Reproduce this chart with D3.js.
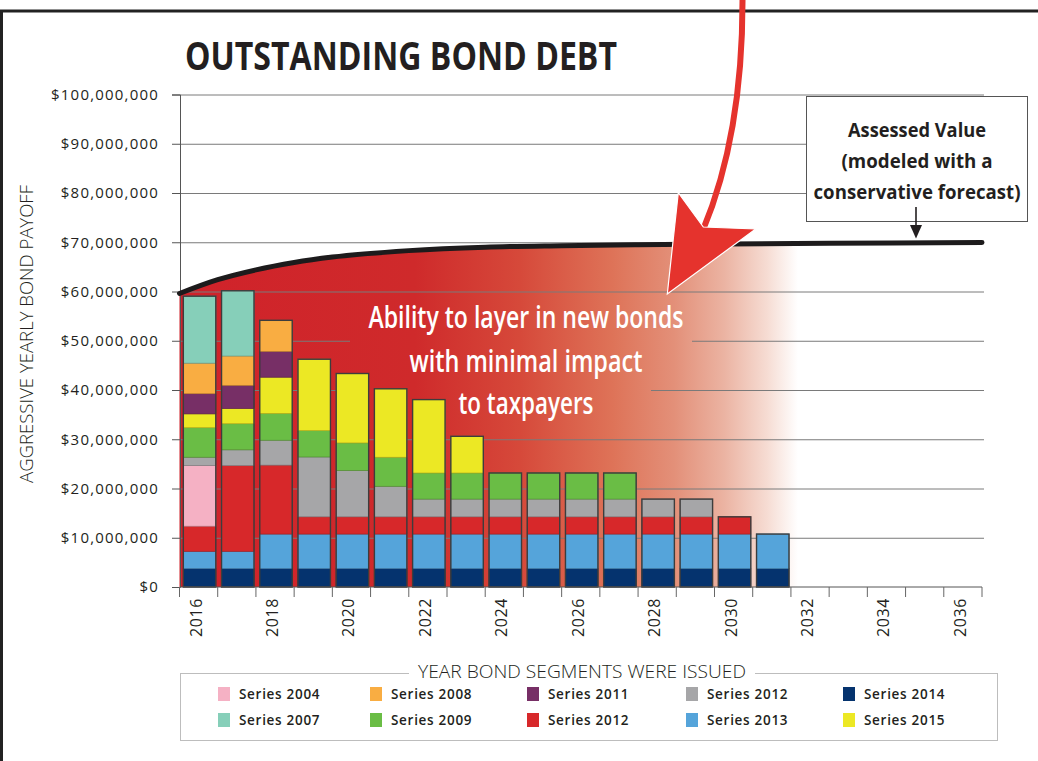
<!DOCTYPE html>
<html>
<head>
<meta charset="utf-8">
<script src="https://cdn.jsdelivr.net/npm/d3@7"></script>
<style>
  body { margin: 0; background: #fff; }
  svg { display: block; font-family: "Open Sans", sans-serif; }
</style>
</head>
<body>
<svg width="1038" height="761"></svg>
<script>

// ---- data (millions of dollars) ----
const axisYears = [2016, 2017, 2018, 2019, 2020, 2021, 2022, 2023, 2024, 2025, 2026,
                   2027, 2028, 2029, 2030, 2031, 2032, 2033, 2034, 2035, 2036];
const labelYears = [2016, 2018, 2020, 2022, 2024, 2026, 2028, 2030, 2032, 2034, 2036];
const barYears = [2016, 2017, 2018, 2019, 2020, 2021, 2022, 2023,
                  2024, 2025, 2026, 2027, 2028, 2029, 2030, 2031];

const series2014 = [3.75, 3.75, 3.75, 3.75, 3.75, 3.75, 3.75, 3.75, 3.75, 3.75, 3.75, 3.75, 3.75, 3.75, 3.75, 3.75];
const series2013 = [3.5, 3.5, 7.0, 7.0, 7.0, 7.0, 7.0, 7.0, 7.0, 7.0, 7.0, 7.0, 7.0, 7.0, 7.0, 7.0];
const series2012Red = [5.1, 17.4, 14.0, 3.5, 3.5, 3.5, 3.5, 3.5, 3.5, 3.5, 3.5, 3.5, 3.5, 3.5, 3.5, 0];
const series2004 = [12.3, 0, 0, 0, 0, 0, 0, 0, 0, 0, 0, 0, 0, 0, 0, 0];
const series2012Gray = [1.7, 3.2, 5.05, 12.15, 9.4, 6.2, 3.6, 3.6, 3.6, 3.6, 3.6, 3.6, 3.6, 3.6, 0, 0];
const series2009 = [6.0, 5.3, 5.45, 5.35, 5.6, 5.9, 5.3, 5.3, 5.3, 5.3, 5.3, 5.3, 0, 0, 0, 0];
const series2015 = [2.8, 3.1, 7.35, 14.5, 14.1, 13.9, 14.9, 7.45, 0, 0, 0, 0, 0, 0, 0, 0];
const series2011 = [4.1, 4.7, 5.25, 0, 0, 0, 0, 0, 0, 0, 0, 0, 0, 0, 0, 0];
const series2008 = [6.2, 5.95, 6.3, 0, 0, 0, 0, 0, 0, 0, 0, 0, 0, 0, 0, 0];
const series2007 = [13.6, 13.25, 0, 0, 0, 0, 0, 0, 0, 0, 0, 0, 0, 0, 0, 0];

// assessed value curve
const assessedYears = [2016, 2017, 2018, 2019, 2020, 2022, 2024, 2026, 2028, 2030, 2033, 2037];
const assessedValues = [59.6, 62.4, 64.4, 65.9, 67.0, 68.3, 69.0, 69.3, 69.5, 69.65, 69.8, 69.95];

const yTicks = [0, 10, 20, 30, 40, 50, 60, 70, 80, 90, 100];

// stacking order, bottom to top
const stackKeys = ["s2014", "s2013", "s2012r", "s2004", "s2012g", "s2009", "s2015", "s2011", "s2008", "s2007"];
const seriesArrays = {
  s2014: series2014, s2013: series2013, s2012r: series2012Red, s2004: series2004,
  s2012g: series2012Gray, s2009: series2009, s2015: series2015, s2011: series2011,
  s2008: series2008, s2007: series2007
};
const colors = {
  s2004: "#f5b1c4", s2007: "#86cfb9", s2008: "#f9ad42", s2009: "#6abd45",
  s2011: "#772f66", s2012r: "#d7282a", s2012g: "#a6a6a8", s2013: "#55a4da",
  s2014: "#05336e", s2015: "#ece824"
};
// legend, row by row
const legendKeys = ["s2004", "s2008", "s2011", "s2012g", "s2014",
                    "s2007", "s2009", "s2012r", "s2013", "s2015"];
const legendLabels = ["Series 2004", "Series 2008", "Series 2011", "Series 2012", "Series 2014",
                      "Series 2007", "Series 2009", "Series 2012", "Series 2013", "Series 2015"];

const table = barYears.map(function (yr, i) {
  const row = { year: yr };
  stackKeys.forEach(function (k) { row[k] = seriesArrays[k][i]; });
  return row;
});

// ---- setup ----
const svg = d3.select("svg");
const defs = svg.append("defs");

const x = d3.scaleBand().domain(axisYears).range([179.5, 982]).padding(0);
const xLin = d3.scaleLinear().domain([2016, 2037]).range([179.5, 982]);
const y = d3.scaleLinear().domain([0, 100]).range([587, 94.5]);
const step = x.bandwidth();

// red fade gradient (user space, so knock-out boxes match the area)
const grad = defs.append("linearGradient")
    .attr("id", "redFade")
    .attr("gradientUnits", "userSpaceOnUse")
    .attr("x1", 180).attr("x2", 798).attr("y1", 0).attr("y2", 0);
[[0, "#d0222a"], [0.38, "#cf2a2b"], [0.55, "#d6493a"], [0.7, "#de7358"],
 [0.8, "#e39079"], [0.88, "#ebb3a2"], [0.95, "#f6dcd3"], [1, "#ffffff"]]
  .forEach(function (s) {
    grad.append("stop").attr("offset", s[0]).attr("stop-color", s[1]);
  });

// outer frame
svg.append("rect")
    .attr("x", 1.5).attr("y", 11)
    .attr("width", 1100).attr("height", 800)
    .attr("fill", "none").attr("stroke", "#222").attr("stroke-width", 3);

// title
svg.append("text")
    .attr("x", 185).attr("y", 70)
    .attr("textLength", 432).attr("lengthAdjust", "spacingAndGlyphs")
    .style("font-size", "39px").style("font-weight", 700)
    .style("fill", "#231f20")
    .text("OUTSTANDING BOND DEBT");

// area under assessed value
const curvePts = assessedYears.map(function (yr, i) { return { yr: yr, v: assessedValues[i] }; });
svg.append("path")
    .datum(curvePts)
    .attr("fill", "url(#redFade)")
    .attr("d", d3.area()
        .x(function (d) { return xLin(d.yr); })
        .y0(y(0))
        .y1(function (d) { return y(d.v); })
        .curve(d3.curveMonotoneX));

// gridlines
svg.append("g").selectAll("line")
    .data(yTicks.filter(function (d) { return d > 0; }))
    .enter().append("line")
    .attr("x1", 180).attr("x2", 984)
    .attr("y1", function (d) { return y(d) + 0.5; })
    .attr("y2", function (d) { return y(d) + 0.5; })
    .attr("stroke", "#7a7a7a").attr("stroke-width", 1);

// knock-out behind the callout text
svg.append("rect").attr("x", 350).attr("y", 297).attr("width", 342).attr("height", 70)
    .attr("fill", "url(#redFade)");
svg.append("rect").attr("x", 350).attr("y", 366).attr("width", 301).attr("height", 60)
    .attr("fill", "url(#redFade)");

// stacked bars
const stacked = d3.stack().keys(stackKeys)(table);
const barX = function (d) { return x(d.data.year) + step * 0.1; };
const barW = step * 0.85;

svg.append("g").selectAll("g")
    .data(stacked)
    .enter().append("g")
    .attr("fill", function (d) { return colors[d.key]; })
    .attr("stroke", function (d) { return d3.color(colors[d.key]).darker(0.7); })
    .attr("stroke-width", 0.7)
    .selectAll("rect")
    .data(function (d) { return d.filter(function (s) { return s[1] - s[0] > 0; }); })
    .enter().append("rect")
    .attr("x", barX)
    .attr("width", barW)
    .attr("y", function (d) { return y(d[1]); })
    .attr("height", function (d) { return y(d[0]) - y(d[1]); });

// bar outlines
svg.append("g").selectAll("rect")
    .data(table)
    .enter().append("rect")
    .attr("x", function (d) { return x(d.year) + step * 0.1; })
    .attr("width", barW)
    .attr("y", function (d) { return y(d3.sum(stackKeys, function (k) { return d[k]; })); })
    .attr("height", function (d) { return y(0) - y(d3.sum(stackKeys, function (k) { return d[k]; })); })
    .attr("fill", "none").attr("stroke", "#3d3d3d").attr("stroke-width", 1.4);

// y axis
const yAxis = svg.append("g")
    .attr("transform", "translate(180,0)")
    .call(d3.axisLeft(y)
        .tickValues(yTicks)
        .tickSize(8)
        .tickPadding(6)
        .tickFormat(function (d) { return "$" + d3.format(",")(d * 1e6); }));
yAxis.select(".domain").attr("stroke", "#555");
yAxis.selectAll(".tick line").attr("stroke", "#555");
yAxis.selectAll(".tick text")
    .attr("x", -21)
    .style("font-family", "Open Sans")
    .style("font-size", "15px")
    .style("letter-spacing", "1.2px")
    .style("fill", "#231f20");

svg.append("text")
    .attr("transform", "translate(33,334) rotate(-90)")
    .attr("text-anchor", "middle")
    .attr("textLength", 298).attr("lengthAdjust", "spacingAndGlyphs")
    .style("font-size", "19px").style("font-weight", 300)
    .style("fill", "#231f20")
    .text("AGGRESSIVE YEARLY BOND PAYOFF");

// x axis
const xg = svg.append("g");
xg.append("line")
    .attr("x1", 180).attr("x2", 982)
    .attr("y1", y(0)).attr("y2", y(0))
    .attr("stroke", "#555");
xg.selectAll("line.tick")
    .data(axisYears.concat([2037]))
    .enter().append("line")
    .attr("class", "tick")
    .attr("x1", function (d) { return d === 2037 ? x.range()[1] : x(d); })
    .attr("x2", function (d) { return d === 2037 ? x.range()[1] : x(d); })
    .attr("y1", y(0)).attr("y2", y(0) + 10)
    .attr("stroke", "#666");
xg.selectAll("text")
    .data(labelYears)
    .enter().append("text")
    .attr("transform", function (d) {
      return "translate(" + (x(d) + step / 2 + 3) + "," + (y(0) + 11) + ") rotate(-90)";
    })
    .attr("text-anchor", "end")
    .style("font-size", "16px")
    .style("letter-spacing", "0.6px")
    .style("fill", "#231f20")
    .text(function (d) { return d; });

// assessed value curve
svg.append("path")
    .datum(curvePts)
    .attr("fill", "none")
    .attr("stroke", "#1d1b1c")
    .attr("stroke-width", 5)
    .attr("stroke-linecap", "round")
    .attr("d", d3.line()
        .x(function (d) { return xLin(d.yr); })
        .y(function (d) { return y(d.v); })
        .curve(d3.curveMonotoneX));

// callout text
const calloutLines = [
  { t: "Ability to layer in new bonds", y: 328, w: 315 },
  { t: "with minimal impact", y: 372, w: 233 },
  { t: "to taxpayers", y: 414, w: 135 }
];
svg.append("g").selectAll("text")
    .data(calloutLines)
    .enter().append("text")
    .attr("x", 526).attr("y", function (d) { return d.y; })
    .attr("text-anchor", "middle")
    .attr("textLength", function (d) { return d.w; })
    .attr("lengthAdjust", "spacingAndGlyphs")
    .style("font-size", "31px").style("font-weight", 600)
    .style("fill", "#fff")
    .text(function (d) { return d.t; });

// assessed value box
svg.append("rect")
    .attr("x", 806.5).attr("y", 96.5).attr("width", 221).attr("height", 125)
    .attr("fill", "#fff").attr("stroke", "#555").attr("stroke-width", 1);
const boxLines = [
  { t: "Assessed Value", y: 137, w: 138 },
  { t: "(modeled with a", y: 168, w: 151 },
  { t: "conservative forecast)", y: 199, w: 207 }
];
svg.append("g").selectAll("text")
    .data(boxLines)
    .enter().append("text")
    .attr("x", 917).attr("y", function (d) { return d.y; })
    .attr("text-anchor", "middle")
    .attr("textLength", function (d) { return d.w; })
    .attr("lengthAdjust", "spacingAndGlyphs")
    .style("font-size", "20px").style("font-weight", 700)
    .style("fill", "#231f20")
    .text(function (d) { return d.t; });
svg.append("line")
    .attr("x1", 916).attr("x2", 916).attr("y1", 207).attr("y2", 228)
    .attr("stroke", "#231f20").attr("stroke-width", 1.6);
svg.append("path")
    .attr("d", "M910,225 L922,225 L916,238.5 Z")
    .attr("fill", "#231f20");

// big red arrow
svg.append("path")
    .attr("d", "M742.5,-4 C743,90 728,170 703,230")
    .attr("fill", "none").attr("stroke", "#e5332d").attr("stroke-width", 6);
svg.append("path")
    .attr("d", "M678.3,192.7 L703.3,227 L755.7,229 L667.3,294 Z")
    .attr("fill", "#e5332d").attr("stroke", "#fff").attr("stroke-width", 1.2)
    .attr("stroke-linejoin", "miter");

// legend
const lg = svg.append("g");
lg.append("rect")
    .attr("x", 180.5).attr("y", 673.5).attr("width", 817).attr("height", 67)
    .attr("fill", "#fff").attr("stroke", "#bdbdbd").attr("stroke-width", 1);
lg.append("rect")
    .attr("x", 409).attr("y", 665).attr("width", 346).attr("height", 14)
    .attr("fill", "#fff");
lg.append("text")
    .attr("x", 582).attr("y", 678)
    .attr("text-anchor", "middle")
    .attr("textLength", 328).attr("lengthAdjust", "spacingAndGlyphs")
    .style("font-size", "18px").style("font-weight", 300)
    .style("fill", "#231f20")
    .text("YEAR BOND SEGMENTS WERE ISSUED");

const legendColX = [218, 370, 527, 686, 843];
const legendRowY = [687, 713];
const items = lg.selectAll("g.item")
    .data(legendKeys)
    .enter().append("g")
    .attr("class", "item")
    .attr("transform", function (d, i) {
      return "translate(" + legendColX[i % 5] + "," + legendRowY[Math.floor(i / 5)] + ")";
    });
items.append("rect")
    .attr("width", 12).attr("height", 14)
    .attr("fill", function (d) { return colors[d]; });
items.append("text")
    .attr("x", 21).attr("y", 12)
    .style("font-size", "13.5px").style("font-weight", 600)
    .style("letter-spacing", "0.7px")
    .style("fill", "#231f20")
    .text(function (d, i) { return legendLabels[i]; });

</script>
</body>
</html>
